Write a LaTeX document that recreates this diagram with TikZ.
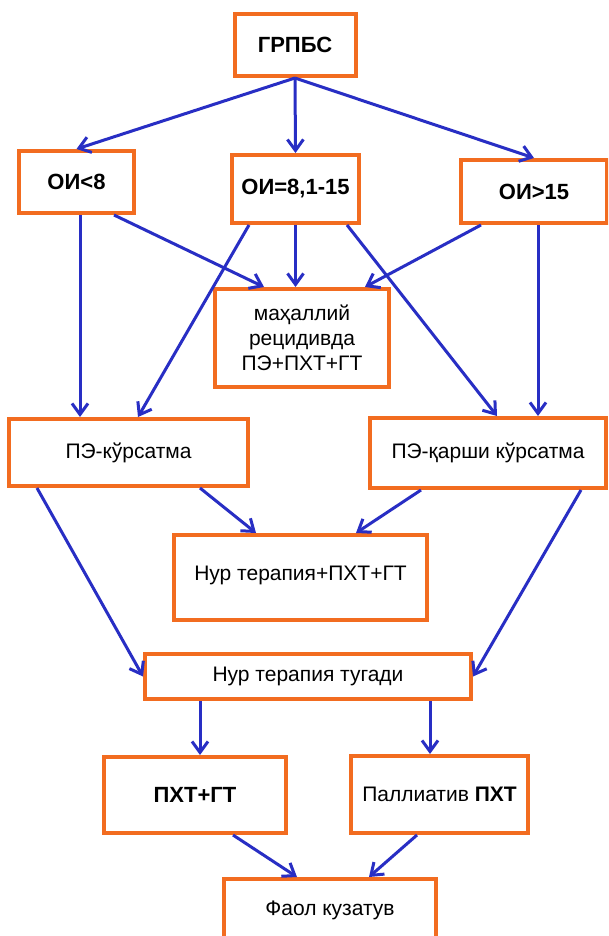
\documentclass[tikz,border=0pt]{standalone}
\usepackage{fontspec}
\setmainfont{Liberation Sans}
\usetikzlibrary{arrows.meta,calc}
\definecolor{boxorange}{RGB}{242,108,32}
\definecolor{arrowblue}{RGB}{40,46,196}
\tikzset{
  box/.style={draw=boxorange, line width=4pt, fill=white, inner sep=0pt, align=center,
    font=\fontsize{21}{25}\selectfont},
  bbox/.style={box, font=\fontsize{22}{26}\selectfont\bfseries},
  conn/.style={draw=arrowblue, line width=3pt, -{Straight Barb[length=11pt,width=16pt,line width=3pt]}},
}
\begin{document}
\begin{tikzpicture}[x=1pt,y=-1pt]
\useasboundingbox (0,0) rectangle (608,936);
\clip (0,0) rectangle (608,936);
\fill[white] (0,0) rectangle (608,936);

\node[bbox, minimum width=121pt, minimum height=62pt] (g) at (295,45) {ГРПБС};
\node[bbox, minimum width=115pt, minimum height=62pt] (a) at (76.5,182) {ОИ<8};
\node[bbox, minimum width=127pt, minimum height=68pt] (b) at (295.5,189) {ОИ=8,1-15};
\node[bbox, minimum width=146pt, minimum height=63pt] (c) at (534,191.5) {ОИ>15};
\node[box, minimum width=174pt, minimum height=98pt] (m) at (302,338) {маҳаллий\\рецидивда\\ПЭ+ПХТ+ГТ};
\node[box, minimum width=239pt, minimum height=67pt] (p) at (128.5,452.5) {ПЭ-кўрсатма};
\node[box, minimum width=236pt, minimum height=70pt] (q) at (488,453) {ПЭ-қарши кўрсатма};
\node[box, minimum width=253pt, minimum height=85pt, text depth=9pt] (n) at (300.5,577.5) {Нур терапия+ПХТ+ГТ};
\node[box, minimum width=326pt, minimum height=45pt] (t) at (308,676.5) {Нур терапия тугади};
\node[bbox, minimum width=182pt, minimum height=76pt] (x) at (195,795) {ПХТ+ГТ};
\node[box, minimum width=177pt, minimum height=77pt] (y) at (439.5,794.5) {Паллиатив \textbf{ПХТ}};
\node[box, minimum width=212pt, minimum height=64pt, text depth=6pt] (f) at (330,911) {Фаол кузатув};

% level 1
\draw[conn] (g.south) -- (a.north);
\draw[conn] (g.south) -- (b.north);
\draw[conn] (g.south) -- (c.north);
% into local relapse box
\draw[conn] ([xshift=37.5pt]a.south) -- ([xshift=-38pt]m.north);
\draw[conn] (b.south) -- (b.south |- m.north);
\draw[conn] ([xshift=-53pt]c.south) -- ([xshift=63pt]m.north);
% into PE boxes
\draw[conn] ([xshift=3.5pt]a.south) -- ([xshift=3.5pt]a.south |- p.north);
\draw[conn] ([xshift=-46.5pt]b.south) -- ([xshift=9.5pt]p.north);
\draw[conn] ([xshift=51.5pt]b.south) -- ([xshift=9pt]q.north);
\draw[conn] ([xshift=4pt]c.south) -- ([xshift=4pt]c.south |- q.north);
% into radiotherapy
\draw[conn] ([xshift=71.5pt]p.south) -- ([xshift=-44.5pt]n.north);
\draw[conn] ([xshift=-67pt]q.south) -- ([xshift=55.5pt]n.north);
% into radiotherapy finished
\draw[conn] ([xshift=-91.5pt]p.south) -- (t.west);
\draw[conn] ([xshift=93pt]q.south) -- (t.east);
% after
\draw[conn] ([xshift=5pt]x.north |- t.south) -- ([xshift=5pt]x.north);
\draw[conn] ([xshift=-9.5pt]y.north |- t.south) -- ([xshift=-9.5pt]y.north);
\draw[conn] ([xshift=38pt]x.south) -- ([xshift=-33pt]f.north);
\draw[conn] ([xshift=-22.5pt]y.south) -- ([xshift=39pt]f.north);
\end{tikzpicture}
\end{document}
